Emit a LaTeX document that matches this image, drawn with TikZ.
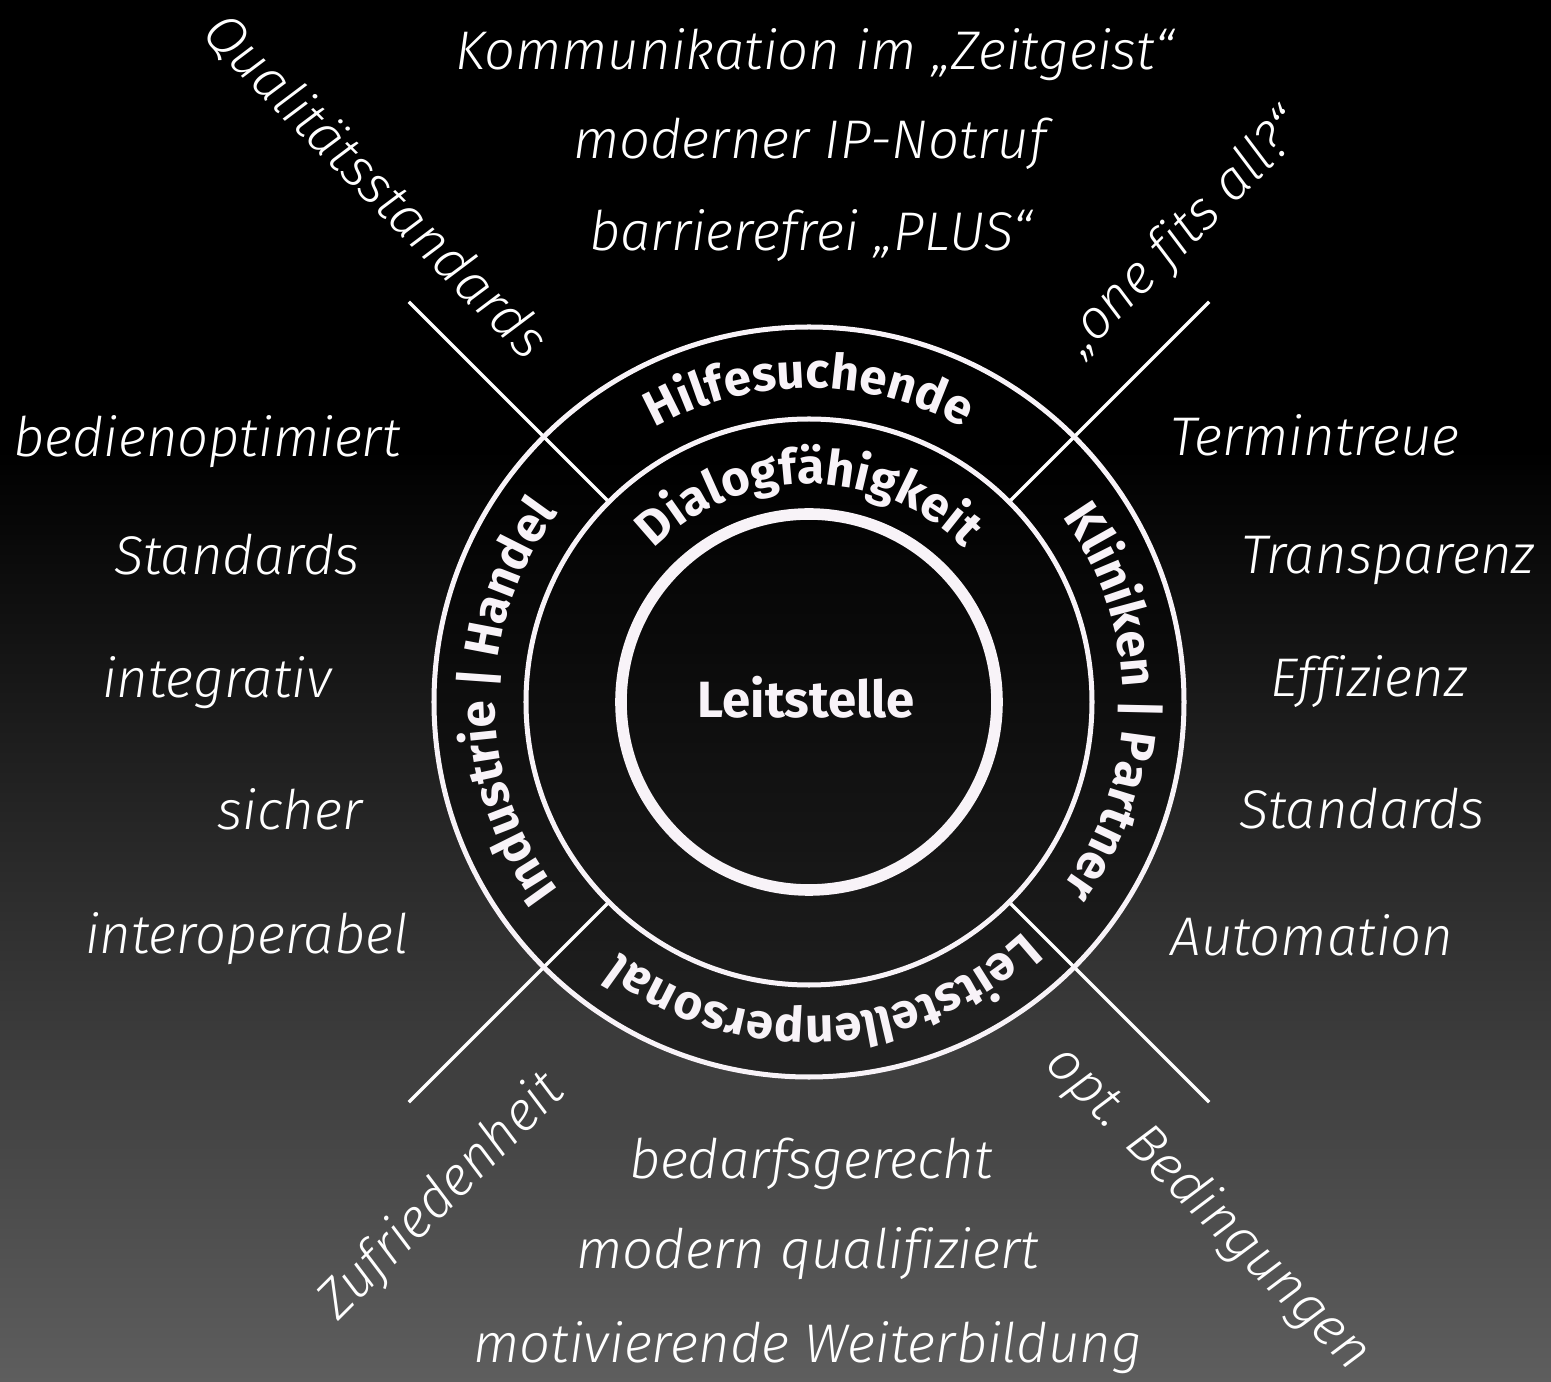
\documentclass[tikz,border=0pt]{standalone}
\usepackage{fontspec}
\newfontfamily\labelfont{Fira Sans Light Italic}[Ligatures={NoCommon}]
\newfontfamily\ringfont{Fira Sans Bold}
\usetikzlibrary{decorations.text}
\definecolor{bggray}{HTML}{5E5E5E}
\definecolor{ringwhite}{HTML}{F8F3F8}

\begin{document}
\begin{tikzpicture}[x=0.02cm, y=0.02cm,
  word/.style={text=white, font=\labelfont\fontsize{31}{33}\selectfont, inner sep=0pt},
  ringline/.style={draw=ringwhite, line width=2.85pt},
  spoke/.style={draw=white, line width=2pt},
  ringtext/.style={decorate, decoration={text along path, text align=center,
    text format delimiters={<}{>},
    text={<\ringfont\fontsize{28}{30}\selectfont\color{ringwhite}>#1}}}]
  % Background with gradient to the bottom
  \fill[black] (-809,-680) rectangle (742,702);
  \shade[top color=black, bottom color=bggray] (-809,-680) rectangle (742,252);
  \useasboundingbox (-809,-680) rectangle (742,702);

  % Dark disk and the four spokes
  \fill[black, fill opacity=0.45] (0,0) circle (375);
  \foreach \a in {45,135,225,315} {
    \draw[spoke] (\a:283) -- (\a:566); % Spoke from middle ring outwards
  }

  % Rings
  \draw[ringline] (0,0) circle (375);
  \draw[ringline] (0,0) circle (283);
  \draw[draw=ringwhite, line width=6.6pt] (0,0) circle (188);

  % Texts along the rings
  \path[ringtext=Hilfesuchende] (180:314) arc[start angle=180, end angle=0, radius=314];
  \path[ringtext=Industrie | Handel] (270:314) arc[start angle=270, end angle=90, radius=314];
  \path[ringtext=Kliniken | Partner] (90:314) arc[start angle=90, end angle=-90, radius=314];
  \path[ringtext=Leitstellenpersonal] (3:314) arc[start angle=3, end angle=-177, radius=314];
  \path[ringtext=Dialogfähigkeit] (180:218) arc[start angle=180, end angle=0, radius=218];
  \node[anchor=base, text=ringwhite, font=\ringfont\fontsize{29}{31}\selectfont] (leitstelle) at (-3,-16) {Leitstelle};

  % Top
  \node[word, anchor=base] (zeitgeist) at (6,632) {Kommunikation im „Zeitgeist“};
  \node[word, anchor=base] (notruf) at (1,543) {moderner IP-Notruf};
  \node[word, anchor=base] (plus) at (2,451) {barrierefrei „PLUS“};

  % Left
  \node[word, anchor=base] (bedien) at (-602,245) {bedienoptimiert};
  \node[word, anchor=base] (standardsl) at (-572,127) {Standards};
  \node[word, anchor=base] (integrativ) at (-592,4) {integrativ};
  \node[word, anchor=base] (sicher) at (-519,-128) {sicher};
  \node[word, anchor=base] (interop) at (-562,-251) {interoperabel};

  % Right
  \node[word, anchor=base] (termin) at (506,246) {Termintreue};
  \node[word, anchor=base] (transparenz) at (579,128) {Transparenz};
  \node[word, anchor=base] (effizienz) at (560,5) {Effizienz};
  \node[word, anchor=base] (standardsr) at (553,-127) {Standards};
  \node[word, anchor=base] (automation) at (503,-253) {Automation};

  % Bottom
  \node[word, anchor=base] (bedarf) at (2,-476) {bedarfsgerecht};
  \node[word, anchor=base] (qualifiziert) at (-1,-566) {modern qualifiziert};
  \node[word, anchor=base] (weiterbildung) at (-1,-660) {motivierende Weiterbildung};

  % Along the spokes
  \node[word, rotate=-45] (qualitaet) at (-433,516) {Qualitätsstandards};
  \node[word, rotate=45] (fits) at (375,468) {„one fits all?“};
  \node[word, rotate=45] (zufrieden) at (-367,-495) {Zufriedenheit};
  \node[word, rotate=-45] (bedingungen) at (399,-507) {opt. Bedingungen};
\end{tikzpicture}
\end{document}
